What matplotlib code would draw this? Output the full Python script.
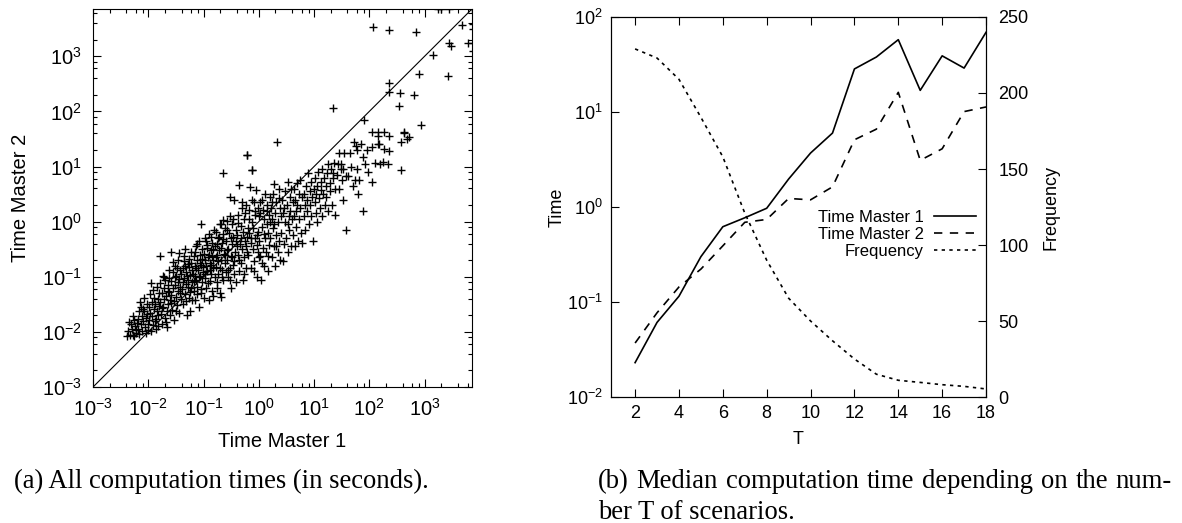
import numpy as np
import matplotlib
matplotlib.use("Agg")
import matplotlib.pyplot as plt
from matplotlib.ticker import LogLocator, LogFormatterMathtext, NullFormatter, MultipleLocator

plt.rcParams['font.family'] = ['Liberation Sans', 'DejaVu Sans']
plt.rcParams['mathtext.fontset'] = 'custom'
plt.rcParams['mathtext.rm'] = 'Liberation Sans'
plt.rcParams['mathtext.it'] = 'Liberation Sans:italic'
plt.rcParams['axes.unicode_minus'] = False

#### (a) scatter: log10 of seconds (Master 1 -> x, Master 2 -> y) ####
log_master1 = [
    -2.38, -2.36, -2.33, -2.31, -2.29, -2.27, -2.26, -2.24, -2.23, -2.21, -2.35, -2.28, -2.22, -2.25,
    -2.19, -2.18, -2.17, -2.16, -2.14, -2.13, -2.12, -2.11, -2.09, -2.08, -2.07, -2.06, -2.05, -2.04, -2.03, -2.02, -2.01, -2.15, -2.10, -2.00,
    -1.99, -1.98, -1.97, -1.96, -1.95, -1.94, -1.93, -1.92, -1.91, -1.90, -1.89, -1.88, -1.87, -1.86, -1.85, -1.84, -1.83, -1.82, -1.81, -1.80, -1.79, -1.95, -1.86, -1.82,
    -1.79, -1.78, -1.77, -1.76, -1.75, -1.74, -1.73, -1.72, -1.71, -1.70, -1.69, -1.68, -1.67, -1.66, -1.65, -1.64, -1.63, -1.62, -1.61, -1.60, -1.76, -1.72, -1.68, -1.64, -1.62, -1.58,
    -1.59, -1.58, -1.57, -1.56, -1.55, -1.54, -1.53, -1.52, -1.51, -1.50, -1.49, -1.48, -1.47, -1.46, -1.45, -1.44, -1.43, -1.42, -1.41, -1.40, -1.44, -1.55, -1.50, -1.46, -1.42, -1.52, -1.58, -1.48,
    -1.39, -1.38, -1.37, -1.36, -1.35, -1.34, -1.33, -1.32, -1.31, -1.30, -1.29, -1.28, -1.27, -1.26, -1.25, -1.24, -1.23, -1.22, -1.21, -1.20, -1.38, -1.35, -1.32, -1.30, -1.27, -1.25, -1.23, -1.21, -1.34, -1.29,
    -1.19, -1.18, -1.17, -1.16, -1.15, -1.14, -1.13, -1.12, -1.11, -1.10, -1.09, -1.08, -1.07, -1.06, -1.05, -1.04, -1.03, -1.02, -1.01, -1.00, -1.18, -1.16, -1.13, -1.11, -1.09, -1.07, -1.05, -1.04, -1.02, -1.15, -1.12, -1.01,
    -0.99, -0.98, -0.97, -0.96, -0.95, -0.94, -0.93, -0.92, -0.91, -0.90, -0.89, -0.88, -0.87, -0.86, -0.85, -0.84, -0.83, -0.82, -0.81, -0.80, -0.98, -0.95, -0.92, -0.90, -0.88, -0.86, -0.84, -0.82, -0.97, -0.93, -0.87, -0.83,
    -0.79, -0.78, -0.77, -0.76, -0.75, -0.74, -0.73, -0.72, -0.71, -0.70, -0.69, -0.68, -0.67, -0.66, -0.65, -0.64, -0.63, -0.62, -0.61, -0.60, -0.69, -0.78, -0.75, -0.72, -0.70, -0.68, -0.66, -0.64, -0.62, -0.76, -0.73, -0.65,
    -0.59, -0.58, -0.57, -0.56, -0.55, -0.54, -0.53, -0.52, -0.51, -0.50, -0.49, -0.48, -0.47, -0.46, -0.45, -0.44, -0.43, -0.42, -0.41, -0.40, -0.58, -0.55, -0.53, -0.50, -0.48, -0.46, -0.44, -0.42, -0.57, -0.52,
    -0.39, -0.38, -0.37, -0.36, -0.35, -0.34, -0.33, -0.32, -0.31, -0.30, -0.29, -0.28, -0.27, -0.26, -0.25, -0.24, -0.23, -0.22, -0.21, -0.20, -0.38, -0.35, -0.32, -0.30, -0.27, -0.25, -0.23, -0.21,
    -0.19, -0.18, -0.17, -0.16, -0.15, -0.14, -0.13, -0.12, -0.11, -0.10, -0.09, -0.08, -0.07, -0.06, -0.05, -0.04, -0.03, -0.02, -0.01, 0.00, -0.18, -0.15, -0.12, -0.09, -0.07, -0.04, -0.02, 0.00,
    0.01, 0.02, 0.03, 0.04, 0.05, 0.06, 0.07, 0.08, 0.09, 0.10, 0.11, 0.12, 0.13, 0.14, 0.15, 0.16, 0.17, 0.18, 0.19, 0.20, 0.03, 0.06, 0.10, 0.14, 0.17, 0.20,
    0.21, 0.22, 0.23, 0.24, 0.25, 0.26, 0.27, 0.28, 0.29, 0.30, 0.31, 0.32, 0.33, 0.34, 0.35, 0.36, 0.37, 0.38, 0.39, 0.40, 0.23, 0.27, 0.32, 0.37,
    0.41, 0.42, 0.43, 0.44, 0.46, 0.47, 0.48, 0.50, 0.51, 0.52, 0.53, 0.54, 0.55, 0.56, 0.57, 0.58, 0.59, 0.60, 0.45, 0.52,
    0.61, 0.62, 0.63, 0.64, 0.65, 0.66, 0.67, 0.68, 0.69, 0.70, 0.71, 0.72, 0.73, 0.74, 0.75, 0.76, 0.78, 0.79,
    0.81, 0.82, 0.83, 0.84, 0.86, 0.87, 0.88, 0.89, 0.90, 0.92, 0.93, 0.94, 0.95, 0.96, 0.98, 0.99,
    1.01, 1.02, 1.03, 1.04, 1.05, 1.06, 1.08, 1.09, 1.10, 1.12, 1.13, 1.14, 1.15, 1.17, 1.18, 1.19,
    1.21, 1.22, 1.24, 1.25, 1.26, 1.28, 1.29, 1.30, 1.32, 1.34, 1.35, 1.36, 1.37, 1.38,
    1.41, 1.43, 1.45, 1.46, 1.48, 1.49, 1.50, 1.52, 1.53, 1.55, 1.57, 1.58,
    1.62, 1.65, 1.67, 1.70, 1.73, 1.74, 1.76, 1.77, 1.78, 1.80,
    1.82, 1.85, 1.88, 1.89, 1.91, 1.92, 1.95, 1.98,
    2.04, 2.05, 2.05, 2.11, 2.16, 2.16, 2.16, 2.18, 2.20, 2.25, 2.27, 2.27, 2.33, 2.35, 2.36, 2.35, 2.36, 2.07, 2.36, 1.35, -0.22, -0.65, -0.13,
    2.53, 2.55, 2.58, 2.58, 2.62, 2.62, 2.69, 2.71, 2.80, 2.84, 2.89, 2.93, 3.16, 3.25, 3.30, 3.42, 3.45, 3.44, 3.47, 3.67, 3.78, 3.87, 3.87, 3.87, 3.87, 3.85,
]
log_master2 = [
    -2.07, -1.98, -2.05, -1.86, -1.95, -2.06, -1.79, -1.90, -2.02, -1.84, -1.82, -1.72, -1.97, -2.07,
    -1.76, -1.95, -1.62, -2.04, -1.85, -1.54, -1.71, -1.99, -1.80, -1.39, -1.63, -1.92, -1.74, -2.02, -1.50, -1.68, -1.86, -1.46, -1.58, -1.96,
    -1.55, -1.78, -1.31, -1.66, -1.98, -1.45, -1.72, -1.88, -1.24, -1.58, -1.38, -1.81, -1.50, -1.95, -1.62, -1.18, -1.41, -1.70, -1.29, -1.53, -0.62, -1.12, -1.77, -1.90,
    -1.46, -1.12, -1.68, -1.30, -1.86, -0.98, -1.55, -1.21, -1.41, -1.75, -1.05, -1.35, -1.62, -1.92, -1.15, -1.50, -0.88, -1.27, -1.70, -1.42, -1.57, -1.01, -1.82, -1.25, -1.02, -0.55,
    -1.33, -1.08, -1.60, -0.92, -1.21, -1.44, -1.78, -0.80, -1.15, -1.37, -0.98, -1.52, -0.70, -1.26, -1.04, -1.66, -0.87, -1.18, -1.40, -0.95, -0.57, -0.74, -1.62, -1.10, -1.30, -1.00, -1.47, -0.84,
    -1.22, -0.85, -1.50, -0.62, -1.03, -1.32, -0.50, -0.92, -1.14, -1.70, -0.76, -1.05, -1.38, -0.68, -0.97, -1.63, -1.20, -0.55, -0.88, -1.10, -1.10, -0.72, -1.44, -0.98, -0.82, -1.27, -0.75, -1.43, -0.80, -1.18,
    -0.95, -0.62, -1.25, -0.80, -1.42, -0.45, -1.05, -0.70, -1.18, -0.88, -1.55, -0.35, -0.98, -0.60, -1.30, -0.78, -1.10, -0.50, -0.92, -1.38, -1.08, -0.55, -0.85, -0.40, -1.00, -0.75, -0.04, -1.22, -0.68, -0.98, -1.32, -0.82,
    -0.58, -1.02, -0.30, -0.80, -1.20, -0.48, -0.90, -0.65, -1.42, -0.22, -0.75, -1.08, -0.52, -0.95, -0.38, -1.25, -0.70, -0.85, -0.15, -1.00, -0.70, -0.35, -1.12, -0.60, -0.88, -0.28, -0.62, -1.35, -0.95, -0.42, -0.78, -0.50,
    -0.45, -0.82, -0.18, -1.10, -0.60, -0.30, -0.95, -0.52, -1.30, -0.05, -0.70, -1.36, -0.38, -0.88, -0.22, -1.05, -0.58, -0.75, -0.12, -0.92, -0.04, -0.65, -1.20, -0.28, -0.85, -0.48, -1.00, -0.32, -0.60, -0.40, -0.72, 0.03,
    -0.35, -0.70, 0.02, -1.00, -0.50, -0.20, -0.85, 0.10, -0.62, -1.20, -0.40, -0.05, -0.78, -0.28, 0.40, -0.95, -0.55, -0.15, -1.10, -0.45, -0.15, -0.88, 0.44, -0.30, -0.65, 0.05, -0.72, -0.35, -0.52, -1.05,
    -0.25, -0.60, 0.12, 0.67, -0.90, -0.40, -0.08, -0.75, 0.25, -0.50, -1.05, -0.18, -0.65, 0.05, -0.35, -0.85, 0.30, -0.55, 1.20, -0.12, -0.02, -0.70, -0.30, 0.35, -0.95, 0.15, -0.45, -0.28,
    -0.60, -0.20, 0.22, 0.62, -0.85, -0.38, 0.00, 0.93, -0.50, -0.12, 0.35, -0.72, -0.30, 0.12, 0.58, -1.00, -0.42, 0.25, -0.18, -0.65, 0.05, -0.30, 0.40, -0.90, 0.20, -0.25, -0.55, 0.10,
    -0.35, 0.15, -0.62, -1.05, 0.40, -0.10, -0.48, 0.22, -0.80, 0.05, -0.30, 0.50, -0.55, -0.05, 0.30, -0.90, -0.20, 0.12, -0.42, 0.45, 0.35, -0.75, -0.22, 0.20, -0.62, 0.00,
    -0.30, 0.25, -0.65, 0.05, -0.12, 0.50, -0.45, 0.68, -0.80, 0.15, -0.25, 0.35, 1.45, -0.55, 0.00, 0.60, -0.35, 0.25, -0.70, 0.10, 0.35, -0.05, -0.45, 0.42,
    -0.20, 0.40, -0.71, 0.15, -0.40, 0.55, 0.00, -0.30, 0.30, 0.72, -0.55, 0.10, -0.15, 0.45, 0.20, -0.45, 0.60, 0.05, 0.25, -0.05,
    0.35, -0.25, 0.60, 0.10, -0.45, 0.40, 0.20, -0.10, 0.70, 0.30, -0.35, 0.50, 0.05, 0.75, 0.25, -0.20, 0.45, -0.39,
    0.50, 0.10, 0.30, -0.15, 0.65, 0.40, 0.20, 0.88, -0.05, 0.55, 0.30, 0.72, 0.10, 0.45, -0.36, 0.60,
    0.35, 0.80, 0.15, 0.50, 0.65, 0.00, 0.90, 0.42, 0.25, 0.72, 0.58, 0.95, 0.10, 0.50, 0.80, 0.30,
    0.65, 0.45, 0.89, 1.05, 0.20, 0.70, 0.55, 0.95, 0.30, 0.80, 0.89, 1.07, 0.60, 0.12,
    0.85, 1.05, 1.25, 0.60, 0.95, 1.04, 0.75, 0.40, 0.95, 1.25, 0.82, -0.15,
    0.82, 1.25, 1.00, 0.65, 1.44, 0.76, 1.38, 0.95, 1.30, 0.50,
    0.76, 1.40, 0.19, 1.18, 1.85, 1.05, 1.30, 0.90,
    1.36, 0.71, 1.62, 1.07, 1.62, 1.55, 1.40, 1.40, 1.04, 1.09, 1.31, 1.62, 1.05, 1.29, 1.55, 2.35, 2.51, 3.53, 3.47, 2.07, 1.20, 0.89, 0.93,
    2.09, 2.33, 0.93, 1.44, 1.60, 1.62, 1.49, 1.53, 2.29, 3.44, 2.67, 1.75, 3.02, 3.85, 3.85, 2.64, 3.85, 3.24, 3.18, 3.56, 3.24, 3.58, 3.49, 3.24, 3.09, 3.85,
]
time_limit = 7200  # upper end of both axes in (a)

#### (b) medians per number of scenarios T ####
T_values = [2, 3, 4, 5, 6, 7, 8, 9, 10, 11, 12, 13, 14, 15, 16, 17, 18]
median_master1 = [0.023, 0.061, 0.115, 0.30, 0.62, 0.77, 0.97, 1.97, 3.7, 6.0, 28.4, 37.9, 57.7, 16.9, 39.0, 29.0, 69.0]
median_master2 = [0.037, 0.077, 0.144, 0.222, 0.39, 0.69, 0.74, 1.23, 1.19, 1.63, 5.1, 6.6, 16.1, 3.1, 4.1, 10.1, 11.3]
frequency = [229, 223, 209, 184, 158, 121, 90, 65, 50, 37, 25, 15, 11, 9.6, 8.1, 7.0, 5.3]

caption_a = '(a) All computation times (in seconds).'
caption_b1 = '(b) Median computation time depending on the num-'
caption_b2 = 'ber T of scenarios.'

fig = plt.figure(figsize=(11.82, 5.23), dpi=100)
ax1 = fig.add_axes([0.0787, 0.26, 0.3206, 0.7228])
ax2 = fig.add_axes([0.5169, 0.2409, 0.3173, 0.7266])

#### panel (a) ####
t1 = 10 ** np.array(log_master1)
t2 = 10 ** np.array(log_master2)
ax1.scatter(t1, t2, marker='+', s=26, color='black', linewidths=1.0)
ax1.plot([1e-3, time_limit], [1e-3, time_limit], color='black', lw=0.8)
ax1.set_xscale('log')
ax1.set_yscale('log')
ax1.set_xlim(1e-3, time_limit)
ax1.set_ylim(1e-3, time_limit)
for axis in (ax1.xaxis, ax1.yaxis):
    axis.set_major_locator(LogLocator(base=10, numticks=12))
    axis.set_major_formatter(LogFormatterMathtext())
    axis.set_minor_locator(LogLocator(base=10, subs=(2, 4, 6, 8), numticks=12))
    axis.set_minor_formatter(NullFormatter())
ax1.tick_params(which='both', direction='in', top=True, right=True, width=0.8, labelsize=14.5, pad=8)
ax1.tick_params(which='major', length=6)
ax1.tick_params(which='minor', length=3)
ax1.set_xlabel('Time Master 1', fontsize=14.5)
ax1.set_ylabel('Time Master 2', fontsize=14.5)
ax1.xaxis.set_label_coords(0.5, -0.12)
ax1.yaxis.set_label_coords(-0.165, 0.5)

#### panel (b) ####
l1, = ax2.plot(T_values, median_master1, color='black', lw=1.2, ls='-')
l2, = ax2.plot(T_values, median_master2, color='black', lw=1.2, ls=(0, (5, 4.5)))
ax2.set_yscale('log')
ax2.set_ylim(1e-2, 1e2)
ax2.set_xlim(0.9, 18)
ax2.xaxis.set_major_locator(MultipleLocator(2))
ax2.yaxis.set_major_locator(LogLocator(base=10, numticks=10))
ax2.yaxis.set_major_formatter(LogFormatterMathtext())
ax2.yaxis.set_minor_locator(LogLocator(base=10, subs=(), numticks=10))
ax2.tick_params(which='both', direction='in', top=True, width=0.8, length=6, labelsize=13, pad=6)
ax2.set_xlabel('T', fontsize=13)
ax2.set_ylabel('Time', fontsize=13)
ax2.xaxis.set_label_coords(0.5, -0.09)
ax2.yaxis.set_label_coords(-0.12, 0.5)

ax3 = ax2.twinx()
l3, = ax3.plot(T_values, frequency, color='black', lw=1.2, ls=(0, (2, 2.6)))
ax3.set_ylim(0, 250)
ax3.yaxis.set_major_locator(MultipleLocator(50))
ax3.tick_params(direction='in', width=0.8, length=6, labelsize=13, pad=9)
ax3.set_ylabel('Frequency', fontsize=13)
ax3.yaxis.set_label_coords(1.15, 0.5)

ax2.legend([l1, l2, l3], ['Time Master 1', 'Time Master 2', 'Frequency'],
           loc='upper right', bbox_to_anchor=(0.972, 0.492), frameon=False,
           markerfirst=False, fontsize=12, handlelength=2.5, handletextpad=0.6,
           labelspacing=0.12, borderpad=0, borderaxespad=0)

#### captions (line 1 of (b) is justified to the column width as in the source) ####
cap = dict(family=['Liberation Serif', 'DejaVu Serif'], fontsize=19.2, va='baseline')
W, H = 1182, 523
fig.text(14 / W, 1 - 488 / H, caption_a, ha='left', **cap)
fig.text(598 / W, 1 - 519 / H, caption_b2, ha='left', **cap)

renderer = fig.canvas.get_renderer()
words = caption_b1.split(' ')
x_left, x_right = 598, 1172
word_texts = [fig.text(0, 1 - 488 / H, w, ha='left', **cap) for w in words]
widths = [t.get_window_extent(renderer).width for t in word_texts]
gap = (x_right - x_left - sum(widths)) / (len(words) - 1)
x = x_left
for t, w in zip(word_texts, widths):
    t.set_x(x / W)
    x += w + gap

fig.savefig('out.png', dpi=100)
